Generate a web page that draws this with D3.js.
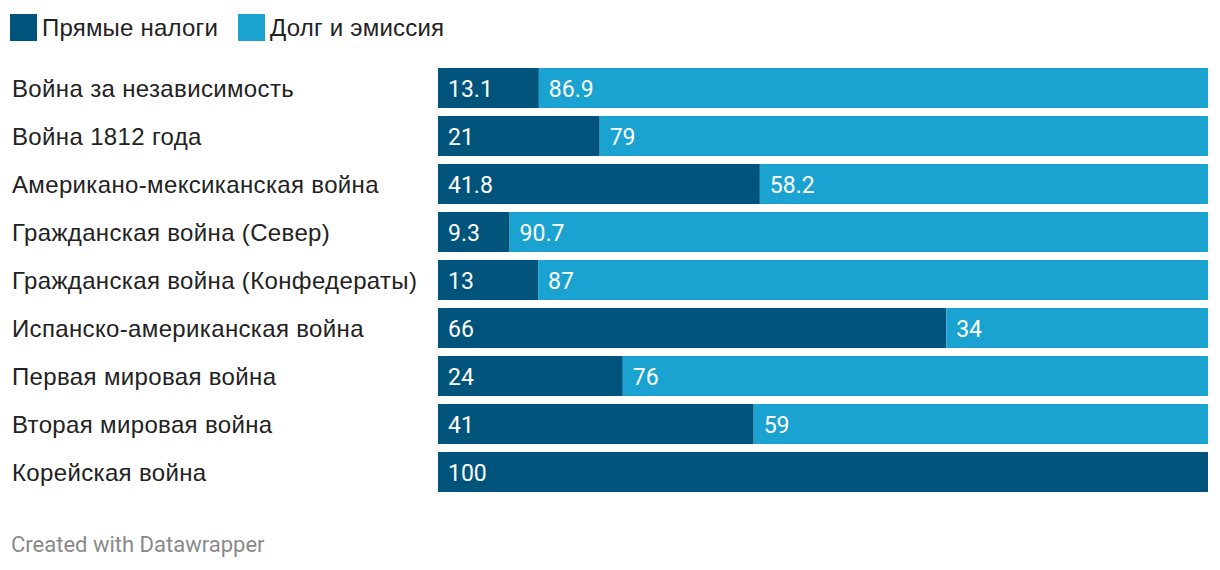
<!DOCTYPE html>
<html>
<head>
<meta charset="utf-8">
<script src="https://cdn.jsdelivr.net/npm/d3@7"></script>
<style>
  body { margin: 0; background: #fff; }
  svg text { font-family: Roboto, "Noto Sans", sans-serif; }
  svg text.lbl { font-family: "Liberation Sans", Arial, sans-serif; }
</style>
</head>
<body>
<script>
// categories and values (percent of war financing)
const wars = [
    "Война за независимость",
    "Война 1812 года",
    "Американо-мексиканская война",
    "Гражданская война (Север)",
    "Гражданская война (Конфедераты)",
    "Испанско-американская война",
    "Первая мировая война",
    "Вторая мировая война",
    "Корейская война"
];
const taxes = [13.1, 21, 41.8, 9.3, 13, 66, 24, 41, 100];
const debt = [86.9, 79, 58.2, 90.7, 87, 34, 76, 59, 0];
const seriesNames = ["Прямые налоги", "Долг и эмиссия"];
const colors = ["#00547b", "#1aa3d0"];

const width = 1220, height = 570;

let svg = d3.select('body').append('svg')
    .attr('width', width)
    .attr('height', height);

// legend
let legendX = [10, 238];
seriesNames.forEach((name, i) => {
    let g = svg.append('g').attr('transform', `translate(${legendX[i]},14)`);
    g.append('rect')
        .attr('width', 27)
        .attr('height', 27)
        .attr('fill', colors[i]);
    g.append('text')
        .attr('class', 'lbl')
        .attr('x', 32)
        .attr('y', 22)
        .attr('font-size', 24)
        .attr('letter-spacing', 0.2)
        .attr('fill', '#222')
        .text(name);
});

// scales
let x = d3.scaleLinear().domain([0, 100]).range([438, 1208]);
let y = d3.scaleBand().domain(wars).range([64, 496]).paddingInner(8 / 48).paddingOuter(4 / 48);

// row labels
svg.append('g').selectAll('text')
    .data(wars)
    .join('text')
    .attr('class', 'lbl')
    .attr('x', 12)
    .attr('y', d => y(d) + y.bandwidth() / 2 + 9)
    .attr('font-size', 24)
    .attr('letter-spacing', 0.35)
    .attr('fill', '#222')
    .text(d => d);

// stacked bars
let rows = wars.map((w, i) => ({ war: w, values: [taxes[i], debt[i]] }));

rows.forEach(r => {
    let start = 0;
    r.values.forEach((v, k) => {
        if (v > 0) {
            svg.append('rect')
                .attr('x', x(start))
                .attr('y', y(r.war))
                .attr('width', x(start + v) - x(start))
                .attr('height', y.bandwidth())
                .attr('fill', colors[k]);
            svg.append('text')
                .attr('x', x(start) + 10)
                .attr('y', y(r.war) + y.bandwidth() / 2 + 8.5)
                .attr('font-size', 23)
                .attr('fill', '#fff')
                .text(v);
        }
        start += v;
    });
});

// footer
svg.append('text')
    .attr('x', 11)
    .attr('y', 552)
    .attr('font-size', 22)
    .attr('fill', '#8a8a8a')
    .text('Created with Datawrapper');
</script>
</body>
</html>
